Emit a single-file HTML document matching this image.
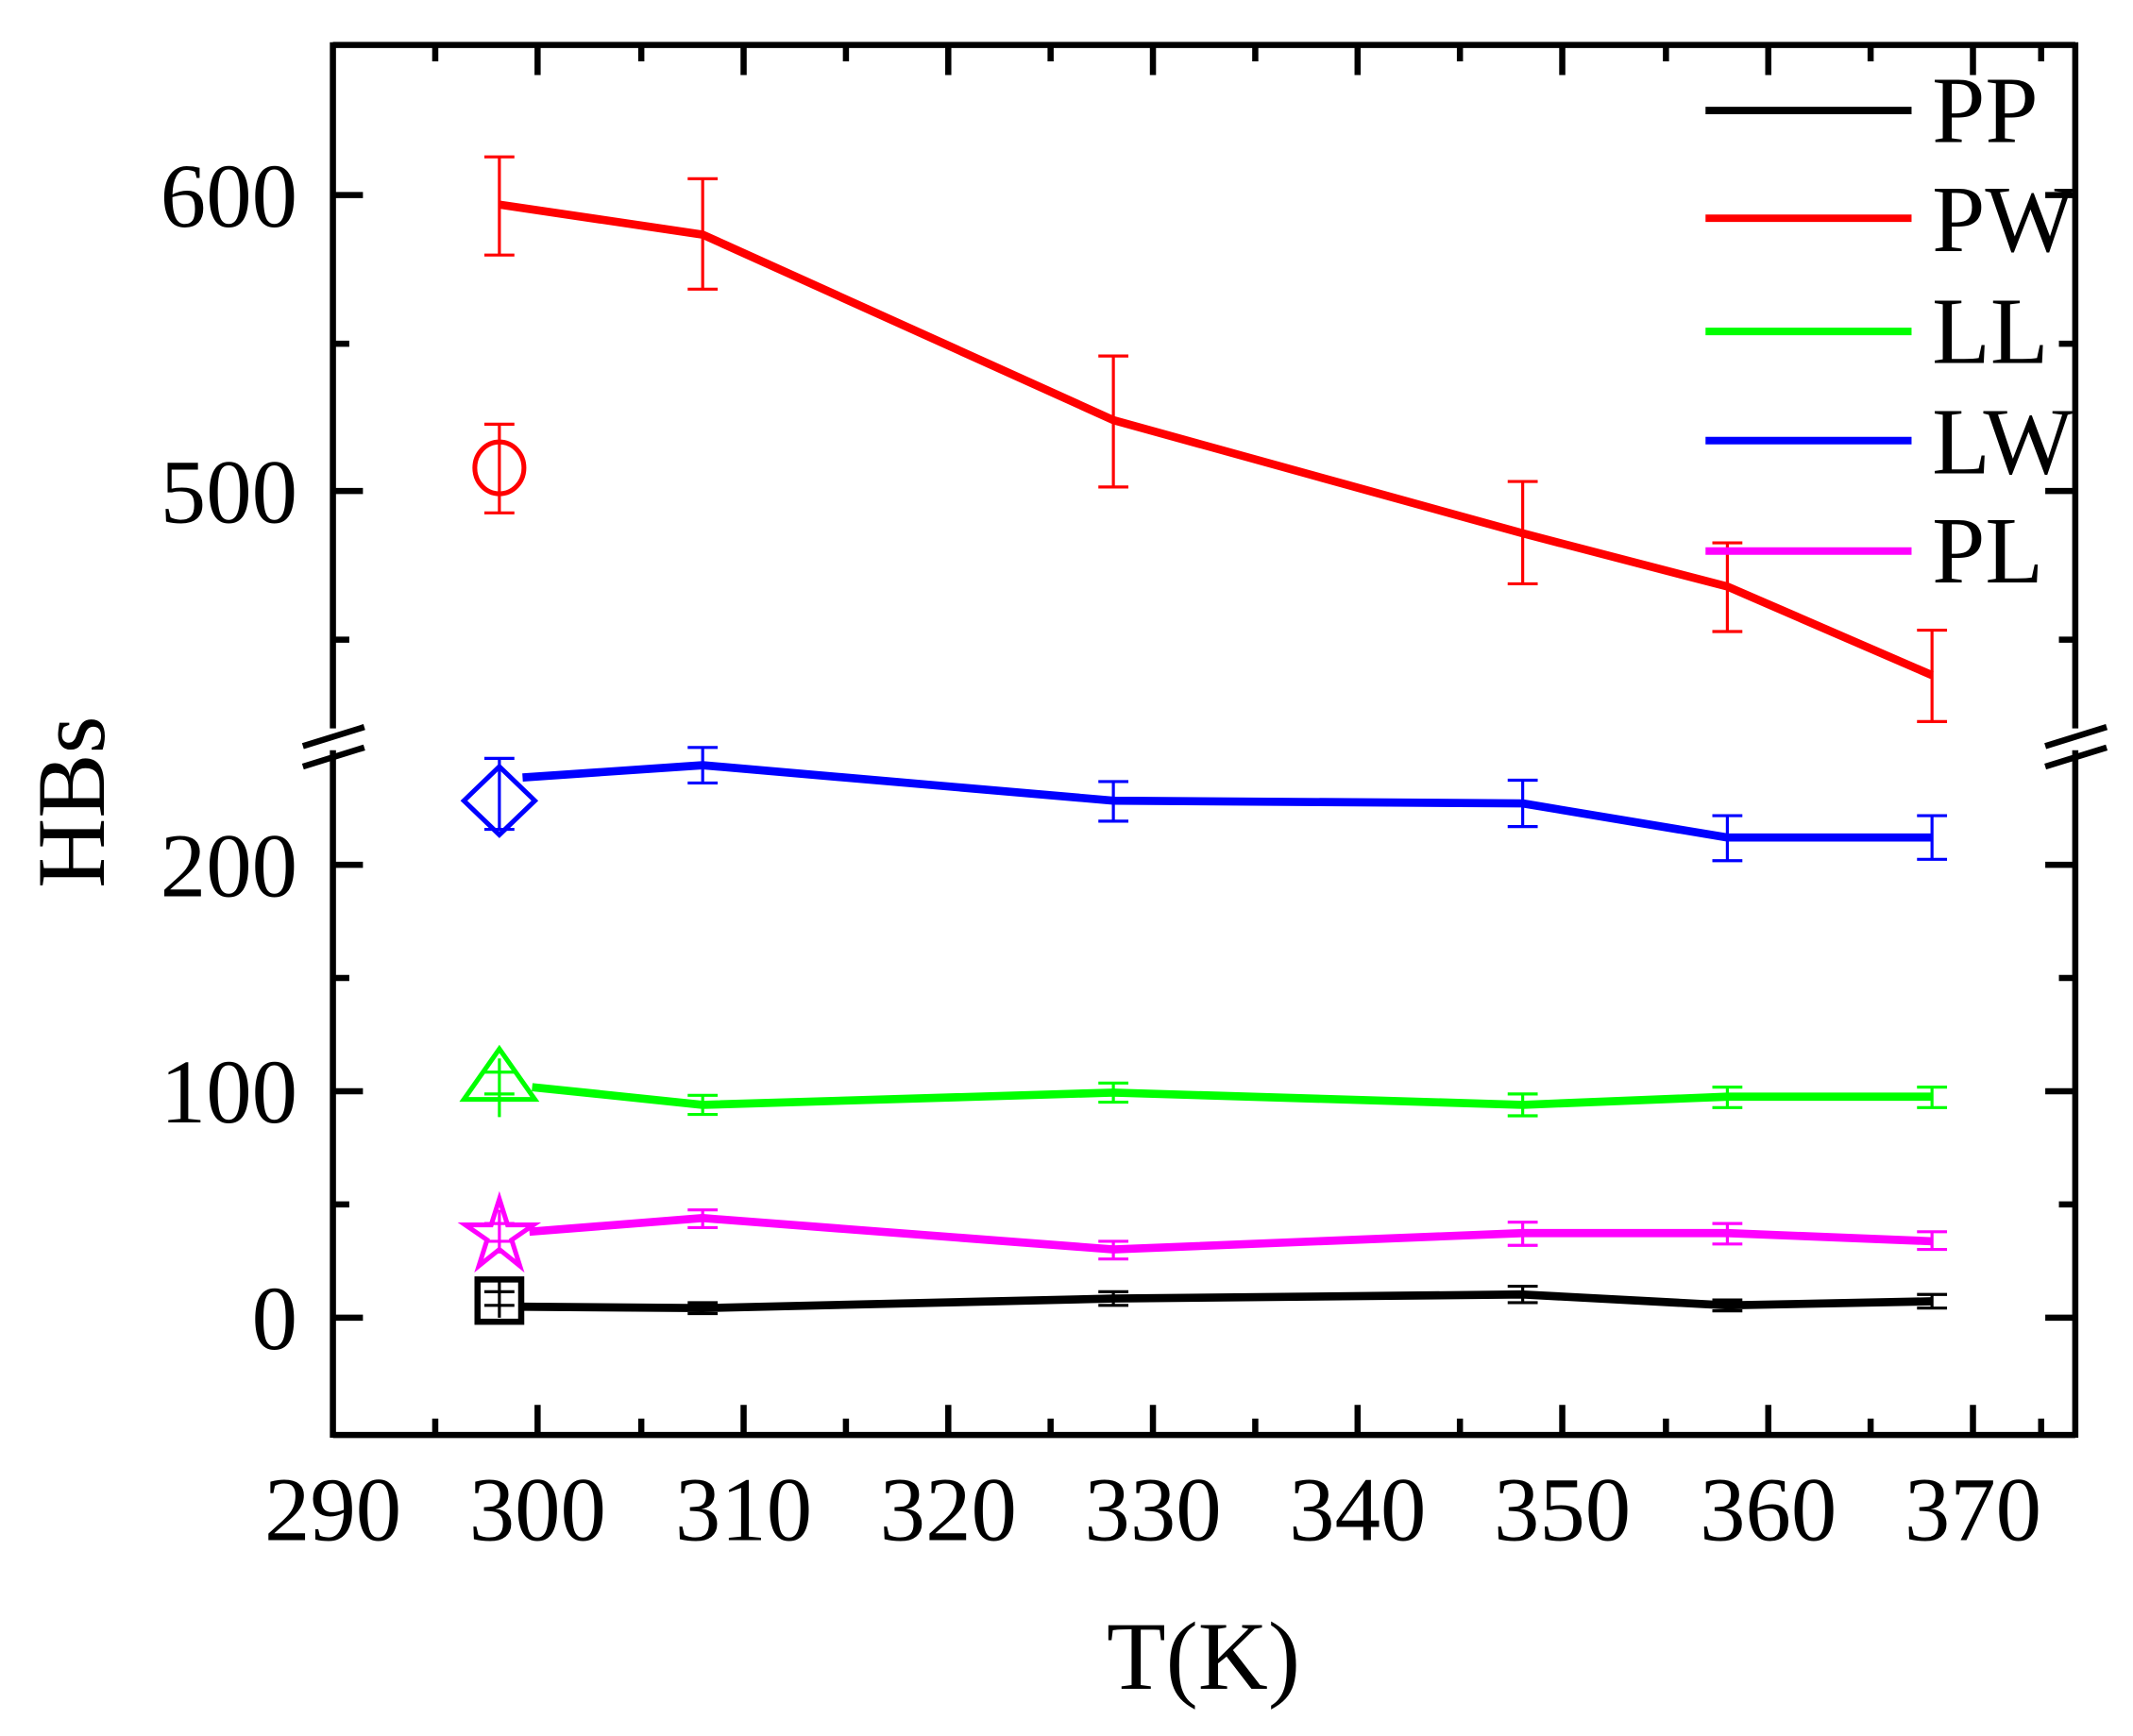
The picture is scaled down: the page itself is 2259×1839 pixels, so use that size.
<!DOCTYPE html>
<html><head><meta charset="utf-8"><style>html,body{margin:0;padding:0;background:#fff}svg{display:block}text{font-family:"Liberation Serif","Times New Roman",serif}</style></head>
<body>
<svg xmlns="http://www.w3.org/2000/svg" width="2259" height="1839" viewBox="0 0 1563.3 1272.7" preserveAspectRatio="none">
<rect width="1563.3" height="1272.7" fill="#fff"/>
<g stroke="#000" stroke-width="4.5" fill="none">
<line x1="244" y1="33" x2="1521" y2="33"/>
<line x1="244" y1="1052" x2="1521" y2="1052"/>
<line x1="244" y1="31" x2="244" y2="534"/>
<line x1="244" y1="550" x2="244" y2="1054"/>
<line x1="1521" y1="31" x2="1521" y2="534"/>
<line x1="1521" y1="550" x2="1521" y2="1054"/>
<line x1="222" y1="547" x2="267" y2="533"/>
<line x1="222" y1="562" x2="267" y2="548"/>
<line x1="1499" y1="547" x2="1544" y2="533"/>
<line x1="1499" y1="562" x2="1544" y2="548"/>
</g>
<g stroke="#000" stroke-width="4.5">
<path d="M394,1052v-22M545,1052v-22M695,1052v-22M845,1052v-22M995,1052v-22M1145,1052v-22M1296,1052v-22M1446,1052v-22"/>
<path d="M319,1052v-12M470,1052v-12M620,1052v-12M770,1052v-12M920,1052v-12M1070,1052v-12M1221,1052v-12M1371,1052v-12M1496,1052v-12"/>
<path d="M394,33v22M545,33v22M695,33v22M845,33v22M995,33v22M1145,33v22M1296,33v22M1446,33v22"/>
<path d="M319,33v12M470,33v12M620,33v12M770,33v12M920,33v12M1070,33v12M1221,33v12M1371,33v12M1496,33v12"/>
<path d="M244,143h22M244,360h22M244,634h22M244,800h22M244,966h22"/>
<path d="M244,252h12M244,469h12M244,717h12M244,883h12"/>
<path d="M1521,143h-22M1521,360h-22M1521,634h-22M1521,800h-22M1521,966h-22"/>
<path d="M1521,252h-12M1521,469h-12M1521,717h-12M1521,883h-12"/>
</g>
<g font-size="67" fill="#000">
<g text-anchor="end">
<text x="218" y="166">600</text>
<text x="218" y="383">500</text>
<text x="218" y="657">200</text>
<text x="218" y="823">100</text>
<text x="218" y="989">0</text>
</g>
<g text-anchor="middle">
<text x="244" y="1129">290</text>
<text x="394" y="1129">300</text>
<text x="545" y="1129">310</text>
<text x="695" y="1129">320</text>
<text x="845" y="1129">330</text>
<text x="995" y="1129">340</text>
<text x="1145" y="1129">350</text>
<text x="1296" y="1129">360</text>
<text x="1446" y="1129">370</text>
</g>
<text x="882" y="1238" text-anchor="middle" font-size="71">T(K)</text>
<text transform="translate(76,588) rotate(-90)" text-anchor="middle" font-size="71">HBs</text>
</g>
<g stroke-width="2.2" fill="none">
<g stroke="#f00">
<path d="M366,115v72M355,115h22M355,187h22"/>
<path d="M515,131v81M504,131h22M504,212h22"/>
<path d="M816,261v96M805,261h22M805,357h22"/>
<path d="M1116,353v75M1105,353h22M1105,428h22"/>
<path d="M1266,398v65M1255,398h22M1255,463h22"/>
<path d="M1416,462v67M1405,462h22M1405,529h22"/>
<path d="M366,311v65M355,311h22M355,376h22"/>
</g>
<g stroke="#00f">
<path d="M366,556v52M355,556h22M355,608h22"/>
<path d="M515,548v26M504,548h22M504,574h22"/>
<path d="M816,573v29M805,573h22M805,602h22"/>
<path d="M1116,572v34M1105,572h22M1105,606h22"/>
<path d="M1266,598v33M1255,598h22M1255,631h22"/>
<path d="M1416,598v32M1405,598h22M1405,630h22"/>
</g>
<g stroke="#0f0">
<path d="M366,776v43M355,786h22M355,802h22"/>
<path d="M515,803v14M504,803h22M504,817h22"/>
<path d="M816,794v14M805,794h22M805,808h22"/>
<path d="M1116,802v16M1105,802h22M1105,818h22"/>
<path d="M1266,797v15M1255,797h22M1255,812h22"/>
<path d="M1416,797v15M1405,797h22M1405,812h22"/>
</g>
<g stroke="#f0f">
<path d="M366,887v32M355,897h22M355,910h22"/>
<path d="M515,887v13M504,887h22M504,900h22"/>
<path d="M816,910v13M805,910h22M805,923h22"/>
<path d="M1116,896v17M1105,896h22M1105,913h22"/>
<path d="M1266,897v15M1255,897h22M1255,912h22"/>
<path d="M1416,903v13M1405,903h22M1405,916h22"/>
</g>
<g stroke="#000">
<path d="M366,940v26M355,947h22M355,957h22"/>
<path d="M515,955v8M504,955h22M504,963h22"/>
<path d="M816,947v10M805,947h22M805,957h22"/>
<path d="M1116,943v12M1105,943h22M1105,955h22"/>
<path d="M1266,953v8M1255,953h22M1255,961h22"/>
<path d="M1416,949v10M1405,949h22M1405,959h22"/>
</g>
</g>
<g fill="none" stroke-width="6" stroke-linejoin="round">
<polyline stroke="#f00" points="366,150 515,172 816,308 1116,391 1266,430 1416,495"/>
<polyline stroke="#00f" points="383,570 515,561 816,587 1116,589 1266,614 1416,614"/>
<polyline stroke="#0f0" points="390,797 515,810 816,801 1116,810 1266,804 1416,804"/>
<polyline stroke="#f0f" points="388,903 515,893 816,916 1116,904 1266,904 1416,910"/>
<polyline stroke="#000" points="383,958 515,959 816,952 1116,949 1266,957 1416,954"/>
</g>
<g fill="none" stroke-width="3.5">
<ellipse cx="366" cy="343" rx="18" ry="19" stroke="#f00"/>
<polygon points="366,562 392,587 366,612 340,587" stroke="#00f"/>
<polygon points="366,769 392,806 340,806" stroke="#0f0"/>
<polygon points="366,879 372,898 391,898 375,909 381,928 366,916 351,928 357,909 341,898 360,898" stroke="#f0f"/>
<rect x="350" y="938" width="32" height="31" stroke="#000" stroke-width="4.5"/>
</g>
<g stroke-width="5.5">
<line x1="1250" y1="81" x2="1401" y2="81" stroke="#000"/>
<line x1="1250" y1="160" x2="1401" y2="160" stroke="#f00"/>
<line x1="1250" y1="243" x2="1401" y2="243" stroke="#0f0"/>
<line x1="1250" y1="323" x2="1401" y2="323" stroke="#00f"/>
<line x1="1250" y1="404" x2="1401" y2="404" stroke="#f0f"/>
</g>
<g font-size="70" fill="#000">
<text x="1416" y="104">PP</text>
<text x="1416" y="184">PW</text>
<text x="1416" y="266">LL</text>
<text x="1416" y="347">LW</text>
<text x="1416" y="427">PL</text>
</g>
</svg>
</body></html>
